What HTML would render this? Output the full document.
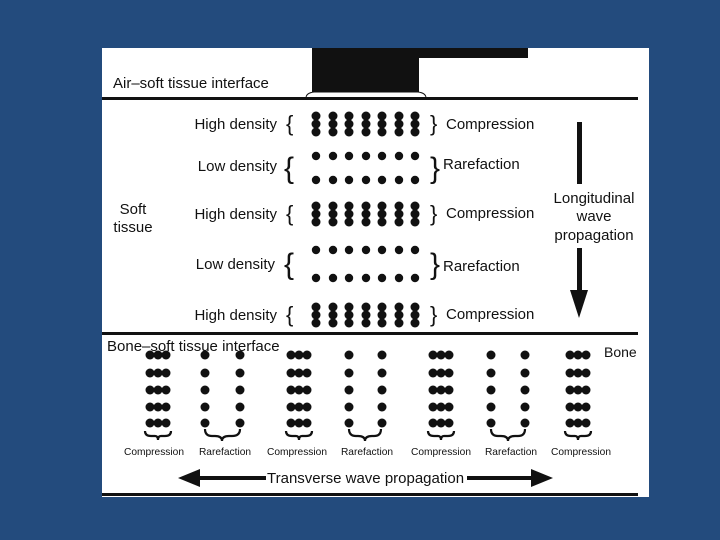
<!DOCTYPE html>
<html><head><meta charset="utf-8"><style>
html,body{margin:0;padding:0;background:#234b7d;width:720px;height:540px;overflow:hidden}
svg{display:block}
text{font-family:"Liberation Sans",sans-serif;fill:#111}
</style></head><body>
<svg width="720" height="540" viewBox="0 0 720 540" xmlns="http://www.w3.org/2000/svg">
<defs>
<g id="hc"><circle cx="0" cy="-8" r="4.5" fill="#111"/><circle cx="0" cy="0" r="4.5" fill="#111"/><circle cx="0" cy="8" r="4.5" fill="#111"/></g>
<g id="hrow"><use href="#hc" x="316"/><use href="#hc" x="333"/><use href="#hc" x="349"/><use href="#hc" x="366"/><use href="#hc" x="382"/><use href="#hc" x="399"/><use href="#hc" x="415"/></g>
<g id="lrow"><circle cx="316" cy="0" r="4.2" fill="#111"/><circle cx="333" cy="0" r="4.2" fill="#111"/><circle cx="349" cy="0" r="4.2" fill="#111"/><circle cx="366" cy="0" r="4.2" fill="#111"/><circle cx="382" cy="0" r="4.2" fill="#111"/><circle cx="399" cy="0" r="4.2" fill="#111"/><circle cx="415" cy="0" r="4.2" fill="#111"/></g>
<g id="cg"><circle cx="-8" cy="0" r="4.5" fill="#111"/><circle cx="0" cy="0" r="4.5" fill="#111"/><circle cx="8" cy="0" r="4.5" fill="#111"/></g>
<g id="comp"><use href="#cg" y="355"/><use href="#cg" y="373"/><use href="#cg" y="390"/><use href="#cg" y="407"/><use href="#cg" y="423"/>
<path d="M-13,431 q0,5 6,5 h4 q3,0 3,4 q0,-4 3,-4 h4 q6,0 6,-5" fill="none" stroke="#111" stroke-width="2.2"/></g>
<g id="rcol"><circle cx="0" cy="355" r="4.5" fill="#111"/><circle cx="0" cy="373" r="4.5" fill="#111"/><circle cx="0" cy="390" r="4.5" fill="#111"/><circle cx="0" cy="407" r="4.5" fill="#111"/><circle cx="0" cy="423" r="4.5" fill="#111"/></g>
</defs>
<rect x="102" y="48" width="547" height="449" fill="#fff"/>
<rect x="312" y="48" width="107" height="46" fill="#111"/>
<rect x="418" y="48" width="110" height="10" fill="#111"/>
<path d="M306,98 q0,-5 8,-6 h104 q8,1 8,6" fill="#fff" stroke="#111" stroke-width="1"/>
<rect x="102" y="97" width="536" height="3" fill="#111"/>
<text x="113" y="88" font-size="15">Air–soft tissue interface</text>
<g font-size="15">
<text x="277" y="129" text-anchor="end">High density</text>
<text x="277" y="171" text-anchor="end">Low density</text>
<text x="277" y="219" text-anchor="end">High density</text>
<text x="275" y="269" text-anchor="end">Low density</text>
<text x="277" y="320" text-anchor="end">High density</text>
<text x="446" y="129">Compression</text>
<text x="443" y="169">Rarefaction</text>
<text x="446" y="218">Compression</text>
<text x="443" y="271">Rarefaction</text>
<text x="446" y="319">Compression</text>
<text x="133" y="214" text-anchor="middle">Soft</text>
<text x="133" y="232" text-anchor="middle">tissue</text>
<text x="594" y="203" text-anchor="middle">Longitudinal</text>
<text x="594" y="221" text-anchor="middle">wave</text>
<text x="594" y="240" text-anchor="middle">propagation</text>
</g>
<g font-size="22">
<text x="286" y="131">{</text><text x="430" y="131">}</text>
<text x="286" y="221">{</text><text x="430" y="221">}</text>
<text x="286" y="322">{</text><text x="430" y="322">}</text>
</g>
<g font-size="30">
<text x="284" y="178">{</text><text x="430" y="178">}</text>
<text x="284" y="274">{</text><text x="430" y="274">}</text>
</g>
<use href="#hrow" y="124"/>
<use href="#lrow" y="156"/><use href="#lrow" y="180"/>
<use href="#hrow" y="214"/>
<use href="#lrow" y="250"/><use href="#lrow" y="278"/>
<use href="#hrow" y="315"/>
<rect x="577" y="122" width="5" height="62" fill="#111"/>
<rect x="577" y="248" width="5" height="44" fill="#111"/>
<path d="M570,290 h18 l-9,28 z" fill="#111"/>
<rect x="102" y="332" width="536" height="3" fill="#111"/>
<text x="107" y="351" font-size="15">Bone–soft tissue interface</text>
<text x="604" y="357" font-size="14">Bone</text>
<use href="#comp" x="158"/><use href="#comp" x="299"/><use href="#comp" x="441"/><use href="#comp" x="578"/>
<use href="#rcol" x="205"/><use href="#rcol" x="240"/>
<use href="#rcol" x="349"/><use href="#rcol" x="382"/>
<use href="#rcol" x="491"/><use href="#rcol" x="525"/>
<path d="M205,429 q0,7 7,7 h3 q7,0 7,5 q0,-5 7,-5 h3 q8,0 8,-7" fill="none" stroke="#111" stroke-width="2.2"/>
<path d="M349,429 q0,7 7,7 h2 q7,0 7,5 q0,-5 7,-5 h2 q7,0 7,-7" fill="none" stroke="#111" stroke-width="2.2"/>
<path d="M491,429 q0,7 7,7 h3 q7,0 7,5 q0,-5 7,-5 h3 q7,0 7,-7" fill="none" stroke="#111" stroke-width="2.2"/>
<g font-size="10.2" text-anchor="middle">
<text x="154" y="455">Compression</text>
<text x="225" y="455">Rarefaction</text>
<text x="297" y="455">Compression</text>
<text x="367" y="455">Rarefaction</text>
<text x="441" y="455">Compression</text>
<text x="511" y="455">Rarefaction</text>
<text x="581" y="455">Compression</text>
</g>
<path d="M178,478 l22,-9 v18 z" fill="#111"/>
<rect x="199" y="476" width="67" height="4" fill="#111"/>
<text x="267" y="483" font-size="15">Transverse wave propagation</text>
<rect x="467" y="476" width="64" height="4" fill="#111"/>
<path d="M553,478 l-22,-9 v18 z" fill="#111"/>
<rect x="102" y="493" width="536" height="3" fill="#111"/>
</svg>
</body></html>
